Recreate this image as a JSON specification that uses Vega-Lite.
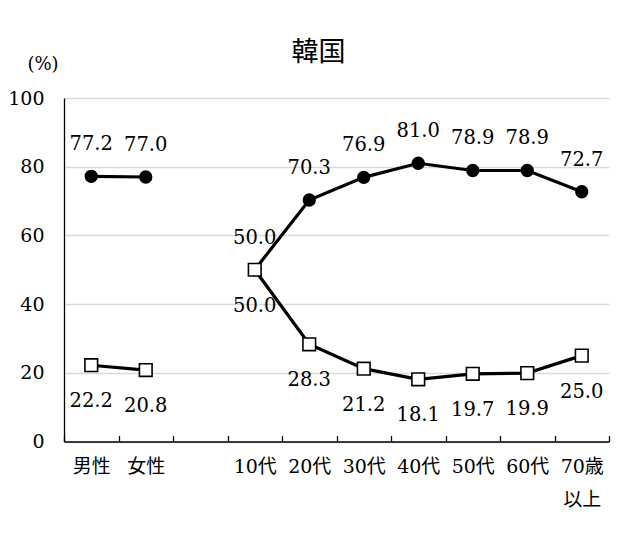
{
  "$schema": "https://vega.github.io/schema/vega-lite/v6.json",
  "width": 545,
  "height": 343.5,
  "autosize": {"type": "none"},
  "padding": {"left": 64, "top": 98, "right": 13, "bottom": 111.5},
  "background": "white",
  "config": {
    "view": {"stroke": null},
    "axis": {"labelColor": "black", "titleColor": "black"}
  },
  "title": {
    "text": "韓国",
    "font": "Noto Sans CJK JP",
    "fontSize": 27,
    "fontWeight": "normal",
    "color": "black",
    "anchor": "middle",
    "frame": "group",
    "baseline": "alphabetic",
    "dx": -18,
    "offset": -33
  },
  "data": {
    "values": [
      {"cat": "男性", "grp": "性別", "series": "系列1", "value": 77.2},
      {"cat": "女性", "grp": "性別", "series": "系列1", "value": 77.0},
      {"cat": "10代", "grp": "年代", "series": "系列1", "value": 50.0},
      {"cat": "20代", "grp": "年代", "series": "系列1", "value": 70.3},
      {"cat": "30代", "grp": "年代", "series": "系列1", "value": 76.9},
      {"cat": "40代", "grp": "年代", "series": "系列1", "value": 81.0},
      {"cat": "50代", "grp": "年代", "series": "系列1", "value": 78.9},
      {"cat": "60代", "grp": "年代", "series": "系列1", "value": 78.9},
      {"cat": "70歳以上", "grp": "年代", "series": "系列1", "value": 72.7},
      {"cat": "男性", "grp": "性別", "series": "系列2", "value": 22.2},
      {"cat": "女性", "grp": "性別", "series": "系列2", "value": 20.8},
      {"cat": "10代", "grp": "年代", "series": "系列2", "value": 50.0},
      {"cat": "20代", "grp": "年代", "series": "系列2", "value": 28.3},
      {"cat": "30代", "grp": "年代", "series": "系列2", "value": 21.2},
      {"cat": "40代", "grp": "年代", "series": "系列2", "value": 18.1},
      {"cat": "50代", "grp": "年代", "series": "系列2", "value": 19.7},
      {"cat": "60代", "grp": "年代", "series": "系列2", "value": 19.9},
      {"cat": "70歳以上", "grp": "年代", "series": "系列2", "value": 25.0}
    ]
  },
  "encoding": {
    "x": {
      "field": "cat",
      "type": "nominal",
      "scale": {"domain": ["男性", "女性", " ", "10代", "20代", "30代", "40代", "50代", "60代", "70歳以上"], "paddingInner": 0, "paddingOuter": 0},
      "axis": {
        "title": null,
        "labelAngle": 0,
        "labelFont": "DejaVu Serif, Noto Sans CJK JP",
        "labelFontSize": 19,
        "labelPadding": 22,
        "labelLineHeight": 33,
        "labelBaseline": "top",
        "labelExpr": "datum.value == '70歳以上' ? ['70歳', '以上'] : datum.value",
        "tickBand": "extent",
        "tickSize": -6,
        "tickColor": "black",
        "tickWidth": 1.3,
        "domainColor": "black",
        "domainWidth": 1.5,
        "grid": false
      }
    },
    "y": {
      "field": "value",
      "type": "quantitative",
      "scale": {"domain": [0, 100], "nice": false},
      "axis": {
        "values": [0, 20, 40, 60, 80, 100],
        "title": "(%)",
        "titleAngle": 0,
        "titleX": -21.5,
        "titleY": -34,
        "titleAlign": "center",
        "titleBaseline": "middle",
        "titleFont": "DejaVu Serif",
        "titleFontSize": 18,
        "titleFontWeight": "normal",
        "labelFont": "DejaVu Serif",
        "labelFontSize": 19,
        "labelPadding": 20,
        "ticks": false,
        "tickSize": 0,
        "domainColor": "black",
        "domainWidth": 1.3,
        "grid": true,
        "gridColor": "#d9d9d9",
        "gridWidth": 1.5
      }
    }
  },
  "layer": [
    {
      "mark": {"type": "line", "color": "black", "strokeWidth": 3.2},
      "encoding": {"detail": [{"field": "series"}, {"field": "grp"}]}
    },
    {
      "transform": [{"filter": "datum.series == '系列1'"}],
      "mark": {"type": "point", "shape": "circle", "filled": true, "color": "black", "size": 177, "opacity": 1}
    },
    {
      "transform": [{"filter": "datum.series == '系列2'"}],
      "mark": {"type": "point", "shape": "square", "filled": true, "fill": "white", "stroke": "black", "strokeWidth": 1.6, "size": 160, "opacity": 1}
    },
    {
      "transform": [{"filter": "datum.series == '系列1'"}],
      "mark": {"type": "text", "font": "DejaVu Serif", "fontSize": 19.5, "color": "black", "baseline": "middle", "dy": -32},
      "encoding": {"text": {"field": "value", "type": "quantitative", "format": ".1f"}}
    },
    {
      "transform": [{"filter": "datum.series == '系列2'"}],
      "mark": {"type": "text", "font": "DejaVu Serif", "fontSize": 19.5, "color": "black", "baseline": "middle", "dy": 36},
      "encoding": {"text": {"field": "value", "type": "quantitative", "format": ".1f"}}
    }
  ]
}
